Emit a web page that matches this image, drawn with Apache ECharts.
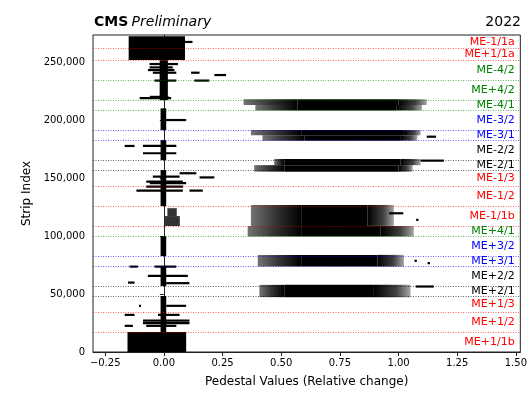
<!DOCTYPE html>
<html>
<head>
<meta charset="utf-8">
<script src="https://cdn.jsdelivr.net/npm/echarts@6/dist/echarts.min.js"></script>
<style>
  html, body { margin: 0; padding: 0; background: #fff; }
  #main { width: 530px; height: 400px; }
</style>
</head>
<body>
<div id="main"></div>
<script>
// axis ticks
const xTicks = [-0.25, 0, 0.25, 0.5, 0.75, 1, 1.25, 1.5];
const yTicks = [0, 50000, 100000, 150000, 200000, 250000];

// chambers, bottom to top, with first strip index of each block
const chambers = ["ME+1/1b", "ME+1/2", "ME+1/3", "ME+2/1", "ME+2/2", "ME+3/1", "ME+3/2", "ME+4/1",
  "ME-1/1b", "ME-1/2", "ME-1/3", "ME-2/1", "ME-2/2", "ME-3/1", "ME-3/2", "ME-4/1",
  "ME+4/2", "ME-4/2", "ME+1/1a", "ME-1/1a"];
const chamberStart = [0, 17280, 34560, 48384, 57024, 74304, 82944, 100224,
  108864, 126144, 143424, 157248, 165888, 183168, 191808, 209088,
  217728, 235008, 252288, 262656];
const lastStrip = 273024;

// dense point clouds near zero: [strip from, strip to, x from, x to]
const coreBlocks = [
  [0, 17280, -0.155, 0.095],
  [252288, 273024, -0.15, 0.09],
  [17280, 48384, -0.014, 0.010],
  [57024, 74304, -0.014, 0.010],
  [82944, 100224, -0.014, 0.010],
  [126144, 157248, -0.014, 0.010],
  [165888, 183168, -0.014, 0.010],
  [191808, 210600, -0.014, 0.010],
  [217728, 252288, -0.018, 0.017]
];

// loose blob in ME-1/1b near zero
const softBlocks = [
  [108900, 117500, 0.005, 0.068],
  [117500, 124300, 0.015, 0.055]
];

// horizontal streaks of points: [strip, x from, x to]
const streaks = [
  [268000, 0.088, 0.122],
  [248900, -0.061, 0.060],
  [246000, -0.061, 0.038],
  [243700, -0.068, 0.045],
  [241400, -0.047, 0.053],
  [241400, 0.116, 0.152],
  [239400, 0.215, 0.265],
  [234600, -0.040, 0.053],
  [234600, 0.130, 0.194],
  [219500, -0.103, 0.031],
  [220500, -0.060, 0.020],
  [200500, -0.011, 0.095],
  [178100, -0.167, -0.125],
  [178100, -0.089, 0.053],
  [171800, -0.089, 0.053],
  [154500, 0.067, 0.138],
  [151600, -0.047, 0.067],
  [150900, 0.152, 0.215],
  [147200, -0.075, 0.081],
  [145900, -0.060, 0.095],
  [143000, -0.075, 0.081],
  [139500, -0.117, 0.081],
  [139500, 0.109, 0.166],
  [73800, -0.146, -0.111],
  [73800, -0.040, 0.053],
  [65800, -0.068, 0.102],
  [60000, -0.153, -0.125],
  [59500, 0.010, 0.109],
  [39900, 0.010, 0.095],
  [39900, -0.106, -0.098],
  [32100, -0.167, -0.125],
  [32100, -0.025, 0.067],
  [27200, -0.089, 0.109],
  [25000, -0.089, 0.109],
  [22600, -0.167, -0.132],
  [22600, -0.075, 0.053],
  [119900, 0.960, 1.020],
  [114200, 1.075, 1.085],
  [186100, 1.120, 1.160],
  [165400, 1.094, 1.193],
  [78800, 1.068, 1.078],
  [76800, 1.124, 1.134],
  [56600, 1.073, 1.150]
];

// wide clouds: [strip from, strip to, fringe left, core left, core right, fringe right]
const wideClouds = [
  [213500, 218400, 0.340, 0.570, 1.000, 1.120],
  [208800, 213500, 0.390, 0.570, 0.990, 1.100],
  [187300, 191800, 0.371, 0.585, 1.023, 1.094],
  [182700, 187300, 0.420, 0.600, 1.010, 1.080],
  [161500, 166850, 0.470, 0.513, 1.009, 1.094],
  [155900, 161500, 0.385, 0.513, 1.000, 1.060],
  [109000, 127100, 0.371, 0.585, 0.867, 0.980],
  [99750, 109000, 0.357, 0.585, 0.924, 1.065],
  [73840, 83940, 0.400, 0.585, 0.910, 1.023],
  [47410, 58030, 0.407, 0.513, 0.895, 1.051]
];

const stationColor = { "1": "#ff0000", "2": "#000000", "3": "#0000ff", "4": "#008000" };
function colorOf(name) { return stationColor[name.charAt(3)]; }

const FONT = "DejaVu Sans";

function box(api, y0, y1, x0, x1) {
  const a = api.coord([x0, y1]);
  const b = api.coord([x1, y0]);
  return { x: a[0], y: a[1], width: b[0] - a[0], height: b[1] - a[1] };
}

let myChart = echarts.init(document.getElementById("main"));

const boundaryData = chamberStart.slice(1).map(function (v, i) {
  return [v, i + 1];
});

const labelData = chambers.map(function (n, i) {
  const top = i + 1 < chamberStart.length ? chamberStart[i + 1] : lastStrip;
  return [1.495, (chamberStart[i] + top) / 2, i];
});

myChart.setOption({
  animation: false,
  backgroundColor: "#fff",
  textStyle: { fontFamily: FONT },
  graphic: [
    {
      type: "text", left: 94, top: 15,
      style: {
        text: "{a|CMS} {b|Preliminary}",
        rich: {
          a: { fontFamily: FONT, fontSize: 14, fontWeight: "bold", fill: "#000" },
          b: { fontFamily: FONT, fontSize: 14, fontStyle: "italic", fill: "#000" }
        }
      }
    },
    {
      type: "text", right: 9, top: 15,
      style: { text: "2022", font: "14px " + FONT, fill: "#000" }
    }
  ],
  grid: { left: 93, right: 8, top: 35, bottom: 48, show: true, borderColor: "#222", borderWidth: 1 },
  xAxis: {
    type: "value",
    min: -0.302,
    max: 1.519,
    name: "Pedestal Values (Relative change)",
    nameLocation: "middle",
    nameGap: 24,
    nameTextStyle: { fontFamily: FONT, fontSize: 12, color: "#000" },
    axisLine: { show: true, lineStyle: { color: "#222", width: 1 } },
    axisTick: { show: true, length: 4, customValues: xTicks, lineStyle: { color: "#222" } },
    axisLabel: {
      customValues: xTicks,
      fontFamily: FONT, fontSize: 10, color: "#000", margin: 6,
      formatter: function (v) { return v < 0 ? "\u2212" + Math.abs(v).toFixed(2) : v.toFixed(2); }
    },
    splitLine: { show: false }
  },
  yAxis: {
    type: "value",
    min: 0,
    max: 274000,
    name: "Strip Index",
    nameLocation: "middle",
    nameGap: 60,
    nameTextStyle: { fontFamily: FONT, fontSize: 12, color: "#000" },
    axisLine: { show: true, lineStyle: { color: "#222", width: 1 } },
    axisTick: { show: true, length: 4, customValues: yTicks, lineStyle: { color: "#222" } },
    axisLabel: { customValues: yTicks, fontFamily: FONT, fontSize: 10, color: "#000", margin: 8 },
    splitLine: { show: false }
  },
  series: [
    {
      // solid clouds
      type: "custom",
      z: 2,
      encode: { x: [2, 3], y: [0, 1] },
      data: coreBlocks,
      renderItem: function (params, api) {
        return {
          type: "rect",
          shape: box(api, api.value(0), api.value(1), api.value(2), api.value(3)),
          style: { fill: "#000" }
        };
      }
    },
    {
      type: "custom",
      z: 2,
      encode: { x: [2, 3], y: [0, 1] },
      data: softBlocks,
      renderItem: function (params, api) {
        return {
          type: "rect",
          shape: box(api, api.value(0), api.value(1), api.value(2), api.value(3)),
          style: { fill: "rgba(0,0,0,0.8)" }
        };
      }
    },
    {
      // wide clouds with ragged fringes
      type: "custom",
      z: 2,
      encode: { x: [2, 5], y: [0, 1] },
      data: wideClouds,
      renderItem: function (params, api) {
        const y0 = api.value(0), y1 = api.value(1);
        return {
          type: "group",
          children: [
            {
              type: "rect",
              shape: box(api, y0, y1, api.value(2), api.value(3)),
              style: {
                fill: new echarts.graphic.LinearGradient(0, 0, 1, 0, [
                  { offset: 0, color: "rgba(0,0,0,0.55)" },
                  { offset: 0.5, color: "rgba(0,0,0,0.8)" },
                  { offset: 1, color: "#000" }
                ])
              }
            },
            {
              type: "rect",
              shape: box(api, y0, y1, api.value(3), api.value(4)),
              style: { fill: "#000" }
            },
            {
              type: "rect",
              shape: box(api, y0, y1, api.value(4), api.value(5)),
              style: {
                fill: new echarts.graphic.LinearGradient(0, 0, 1, 0, [
                  { offset: 0, color: "#000" },
                  { offset: 0.6, color: "rgba(0,0,0,0.75)" },
                  { offset: 1, color: "rgba(0,0,0,0.35)" }
                ])
              }
            }
          ]
        };
      }
    },
    {
      // streaks of points
      type: "custom",
      z: 3,
      encode: { x: [1, 2], y: 0 },
      data: streaks,
      renderItem: function (params, api) {
        const a = api.coord([api.value(1), api.value(0)]);
        const b = api.coord([api.value(2), api.value(0)]);
        return {
          type: "rect",
          shape: { x: a[0], y: a[1] - 1.1, width: Math.max(b[0] - a[0], 2), height: 2.2 },
          style: { fill: "#000" }
        };
      }
    },
    {
      // chamber boundaries
      type: "custom",
      z: 4,
      encode: { y: 0 },
      data: boundaryData,
      renderItem: function (params, api) {
        const a = api.coord([-0.302, api.value(0)]);
        const b = api.coord([1.519, api.value(0)]);
        const y = Math.round(a[1]) + 0.5;
        return {
          type: "line",
          shape: { x1: a[0], y1: y, x2: b[0], y2: y },
          style: {
            stroke: colorOf(chambers[api.value(1)]),
            lineWidth: 1,
            lineDash: [1, 1.5],
            opacity: 0.6
          }
        };
      }
    },
    {
      // chamber names
      type: "custom",
      z: 5,
      encode: { x: 0, y: 1 },
      data: labelData,
      renderItem: function (params, api) {
        const p = api.coord([api.value(0), api.value(1)]);
        const name = chambers[api.value(2)];
        return {
          type: "text",
          x: p[0],
          y: p[1],
          style: {
            text: name,
            fill: colorOf(name),
            font: "11px " + FONT,
            align: "right",
            verticalAlign: "middle"
          }
        };
      }
    }
  ]
});

window.onresize = function () {
  myChart.resize();
};
</script>
</body>
</html>
